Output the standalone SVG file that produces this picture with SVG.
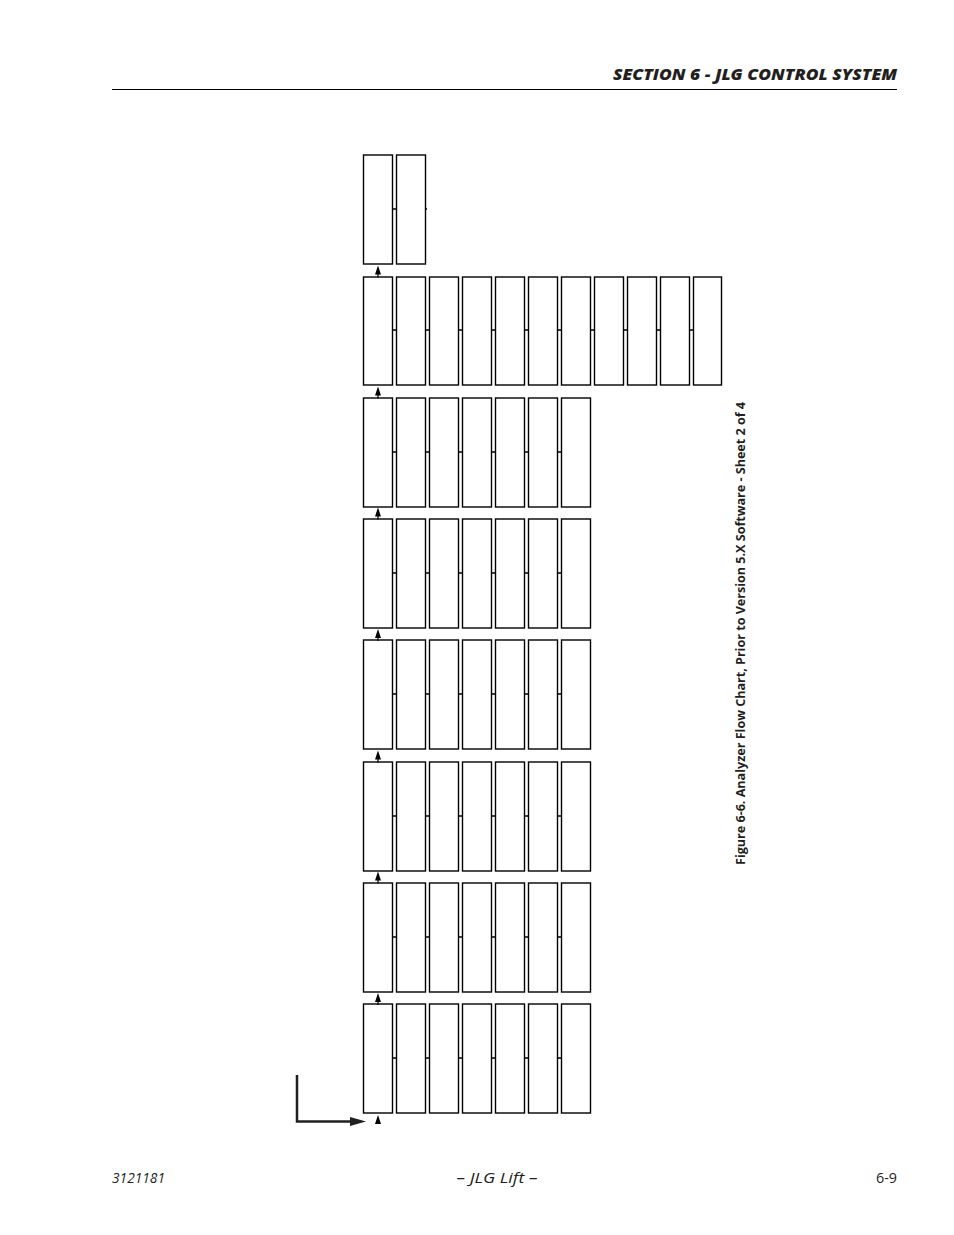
<svg xmlns="http://www.w3.org/2000/svg" width="954" height="1235" viewBox="0 0 954 1235">
<style>
.b{fill:#fff;stroke:#000;stroke-width:1.4}
.c{stroke:#000;stroke-width:1.6;fill:none}
.t{font-family:"Open Sans","Liberation Sans",sans-serif;fill:#231f20}
.ah{fill:#000}
</style>
<defs>
<path id="arr" d="M-3,10 L0,1 L3,10 Z M-0.6,9 h1.2 v4 h-1.2 Z"/>
<g id="row7">
<rect class="b" x="363.5" y="0" width="29" height="109"/>
<rect class="b" x="396.5" y="0" width="29" height="109"/>
<rect class="b" x="429.5" y="0" width="29" height="109"/>
<rect class="b" x="462.5" y="0" width="29" height="109"/>
<rect class="b" x="495.5" y="0" width="29" height="109"/>
<rect class="b" x="528.5" y="0" width="29" height="109"/>
<rect class="b" x="561.5" y="0" width="29" height="109"/>
<path class="c" d="M392.5,54 h4 M425.5,54 h4 M458.5,54 h4 M491.5,54 h4 M524.5,54 h4 M557.5,54 h4"/>
</g>
</defs>
<rect width="954" height="1235" fill="#fff"/>
<text class="t" x="897" y="80" text-anchor="end" font-size="15.5" font-weight="800" font-style="italic" textLength="284" lengthAdjust="spacingAndGlyphs">SECTION 6 - JLG CONTROL SYSTEM</text>
<line x1="112" y1="89.5" x2="897" y2="89.5" stroke="#000" stroke-width="1"/>
<g id="row0">
<rect class="b" x="363.5" y="155" width="29" height="109"/>
<rect class="b" x="396.5" y="155" width="29" height="109"/>
<path class="c" d="M392.5,209 h4 M425.5,209 h1.5"/>
</g>
<g id="row1">
<rect class="b" x="363.5" y="277" width="29" height="108"/>
<rect class="b" x="396.5" y="277" width="29" height="108"/>
<rect class="b" x="429.5" y="277" width="29" height="108"/>
<rect class="b" x="462.5" y="277" width="29" height="108"/>
<rect class="b" x="495.5" y="277" width="29" height="108"/>
<rect class="b" x="528.5" y="277" width="29" height="108"/>
<rect class="b" x="561.5" y="277" width="29" height="108"/>
<rect class="b" x="594.5" y="277" width="29" height="108"/>
<rect class="b" x="627.5" y="277" width="29" height="108"/>
<rect class="b" x="660.5" y="277" width="29" height="108"/>
<rect class="b" x="693.5" y="277" width="28" height="108"/>
<path class="c" d="M392.5,330 h4 M425.5,330 h4 M458.5,330 h4 M491.5,330 h4 M524.5,330 h4 M557.5,330 h4 M590.5,330 h4 M623.5,330 h4 M656.5,330 h4 M689.5,330 h4"/>
</g>
<g id="row2"><use href="#row7" y="398"/></g>
<g id="row3"><use href="#row7" y="519"/></g>
<g id="row4"><use href="#row7" y="640"/></g>
<g id="row5"><use href="#row7" y="762"/></g>
<g id="row6"><use href="#row7" y="883"/></g>
<g id="row7b"><use href="#row7" y="1004"/></g>
<g id="connectors">
<use href="#arr" class="ah" x="378" y="264.5"/>
<use href="#arr" class="ah" x="378" y="385.5"/>
<use href="#arr" class="ah" x="378" y="506.5"/>
<use href="#arr" class="ah" x="378" y="628"/>
<use href="#arr" class="ah" x="378" y="749.5"/>
<use href="#arr" class="ah" x="378" y="870.5"/>
<use href="#arr" class="ah" x="378" y="992"/>
<path class="ah" d="M375,1124 L378,1115 L381,1124 Z"/>
<path d="M297,1075 V1121.5 H352" fill="none" stroke="#231f20" stroke-width="2.5"/>
<path d="M350,1117 L366,1121.5 L350,1126 Z" fill="#231f20"/>
</g>
<text class="t" transform="translate(745,865) rotate(-90)" font-size="12.5" font-weight="bold" textLength="463" lengthAdjust="spacingAndGlyphs">Figure 6-6.  Analyzer Flow Chart, Prior to Version 5.X Software - Sheet 2 of 4</text>
<text class="t" x="112" y="1183" font-size="14" font-style="italic" textLength="53" lengthAdjust="spacingAndGlyphs">3121181</text>
<text class="t" x="497" y="1183" font-size="14" font-style="italic" text-anchor="middle" textLength="81" lengthAdjust="spacingAndGlyphs">– JLG Lift –</text>
<text class="t" x="897" y="1183" font-size="14" text-anchor="end" textLength="21" lengthAdjust="spacingAndGlyphs">6-9</text>
</svg>
